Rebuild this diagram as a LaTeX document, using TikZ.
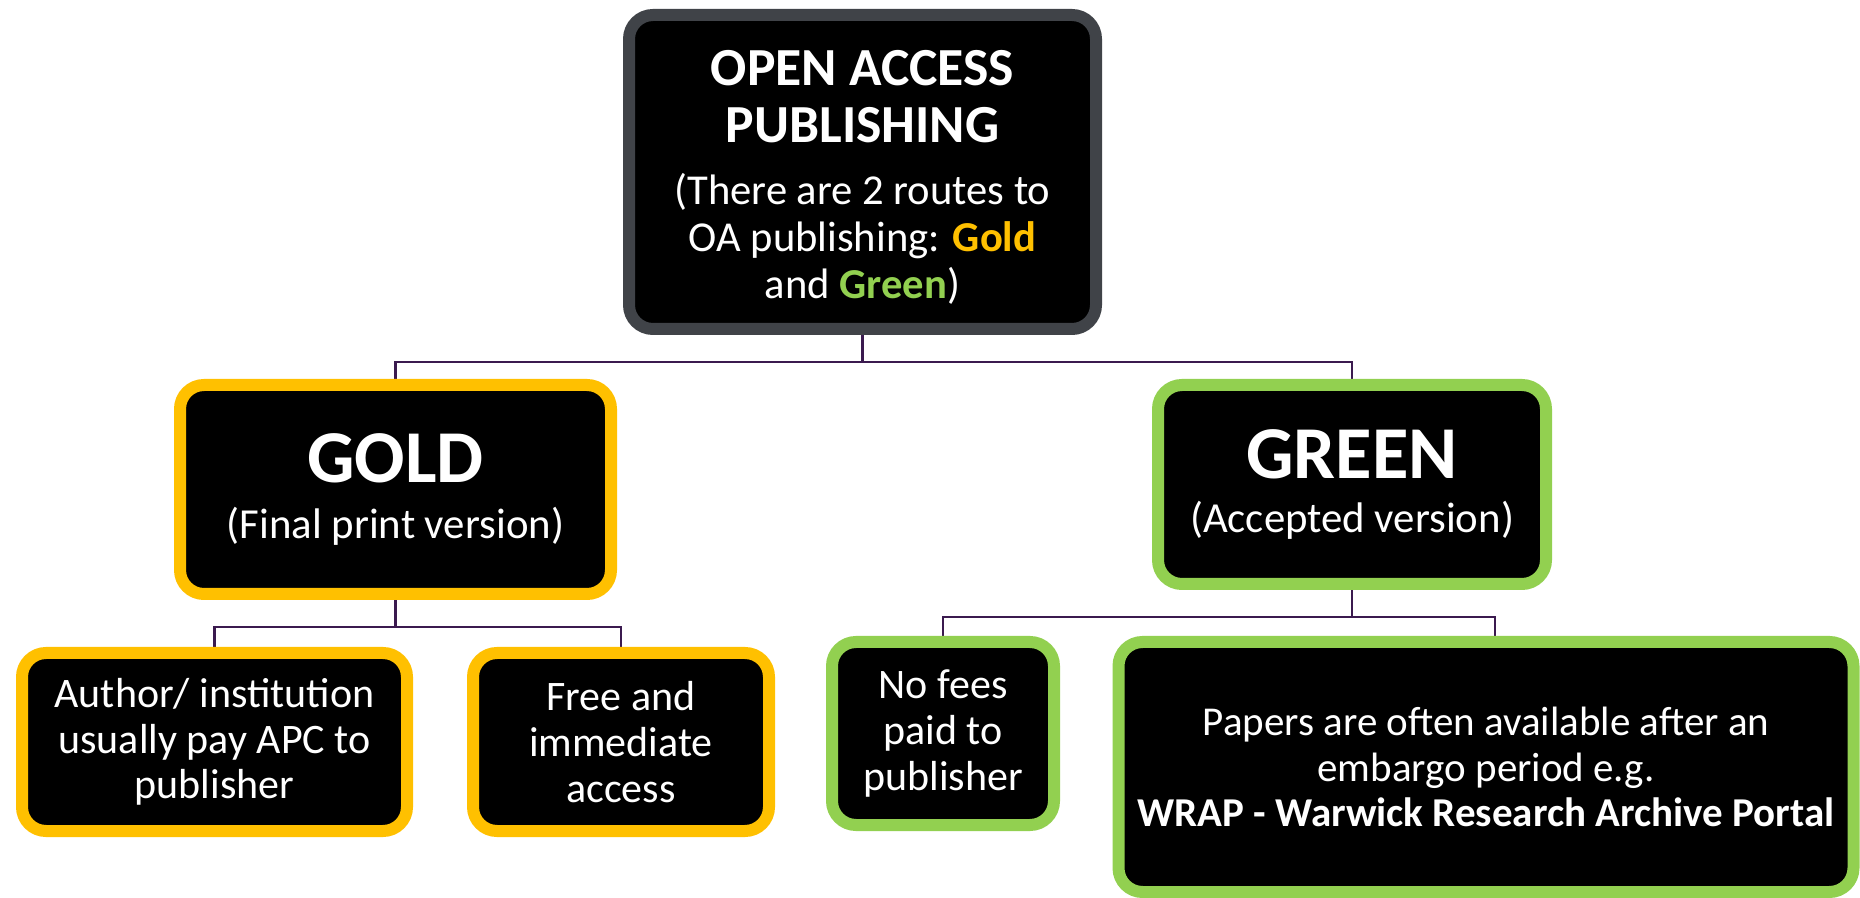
\documentclass[tikz,border=0pt]{standalone}
\usepackage{fontspec}
\setmainfont{Carlito}
\usetikzlibrary{backgrounds}

\definecolor{oagold}{HTML}{FFC000}
\definecolor{oagreen}{HTML}{92D050}
\definecolor{oagray}{HTML}{404348}
\definecolor{oalink}{HTML}{3B1A4F}

\tikzset{
  oabox/.style={draw, fill=black, text=white, line width=6pt, rounded corners=12pt,
    align=center, inner sep=0pt},
  goldbox/.style={oabox, draw=oagold},
  greenbox/.style={oabox, draw=oagreen},
  leafbox/.style={font=\fontsize{21}{22.8}\selectfont},
  link/.style={draw=oalink, line width=1.25pt},
}

\begin{document}
\begin{tikzpicture}[x=0.5pt, y=-0.5pt]
  \useasboundingbox (0,0) rectangle (1860,898);
  % Top box
  \node[oabox, draw=oagray, minimum width=233.5pt, minimum height=157pt,
    font=\fontsize{21.3}{23.5}\selectfont] (oa) at (862.5,172)
    {\rule{0pt}{23.3pt}\fontsize{26.8}{29}\selectfont\bfseries OPEN ACCESS\\[5pt]
     \fontsize{26.8}{29}\selectfont\bfseries PUBLISHING\\[7.5pt]
     (There are 2 routes to\\
     OA publishing: \textbf{\textcolor{oagold}{Gold}}\\
     and \textbf{\textcolor{oagreen}{Green}})};
  % Routes
  \node[goldbox, minimum width=215.5pt, minimum height=104.5pt,
    font=\fontsize{21.4}{22.5}\selectfont] (gold) at (395.5,489.5)
    {\fontsize{37.3}{40}\selectfont\bfseries GOLD\\[5.5pt] (Final print version)};
  \node[greenbox, minimum width=194pt, minimum height=99.5pt,
    font=\fontsize{21.4}{22.5}\selectfont] (green) at (1352,484.5)
    {\fontsize{37.3}{40}\selectfont\bfseries GREEN\\[4.5pt] (Accepted version)};
  % Gold leaves
  \node[goldbox, leafbox, minimum width=192.5pt, minimum height=89pt] (apc) at (214.5,742)
    {Author/ institution\\usually pay APC to\\publisher};
  \node[goldbox, leafbox, minimum width=148pt, minimum height=89pt] (free) at (621,742)
    {Free and\\immediate\\access};
  % Green leaves
  \node[greenbox, leafbox, minimum width=111pt, minimum height=91.5pt] (nofee) at (943,733.5)
    {No fees\\paid to\\publisher};
  \node[greenbox, leafbox, minimum width=367.5pt, minimum height=125pt] (wrap) at (1486,767)
    {\fontsize{20.5}{22.8}\selectfont Papers are often available after an\\
     \fontsize{20.5}{22.8}\selectfont embargo period e.g.\\
     \fontsize{20.5}{22.8}\selectfont\bfseries WRAP - Warwick Research Archive Portal};
  % Connectors
  \begin{scope}[on background layer]
    \fill[white] (0,0) rectangle (1860,898);
    \draw[link] (oa.south) -- ++(0,27) -| (gold.north);
    \draw[link] (oa.south) -- ++(0,27) -| (green.north);
    \draw[link] (gold.south) -- ++(0,27) -| (apc.north);
    \draw[link] (gold.south) -- ++(0,27) -| (free.north);
    \draw[link] (green.south) -- ++(0,27) -| (nofee.north);
    \draw[link] (green.south) -- ++(0,27) -| ([xshift=4.5pt]wrap.north);
  \end{scope}
\end{tikzpicture}
\end{document}
